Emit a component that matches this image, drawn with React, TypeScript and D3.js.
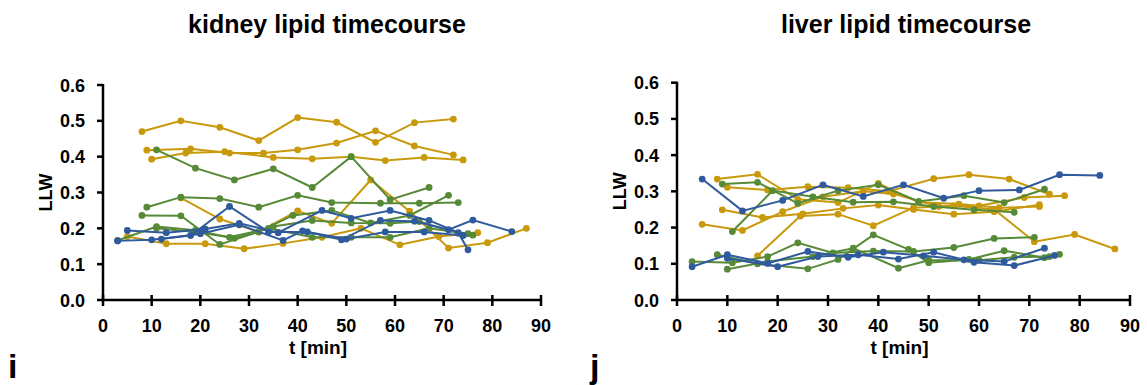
import React from "react";
import * as d3 from "d3";

type Pt = [number, number];

// ---- kidney series ----
const kidneyOrange: Pt[][] = [
  [[8,0.47],[16,0.50],[24,0.482],[32,0.445],[40,0.509],[48,0.496],[56,0.44],[64,0.495],[72,0.505]],
  [[9,0.418],[18,0.422],[26,0.41],[33,0.41],[40,0.419],[48,0.438],[56,0.472],[64,0.43],[72,0.405]],
  [[10,0.393],[17,0.41],[25,0.414],[35,0.398],[43,0.394],[51,0.40],[58,0.389],[66,0.398],[74,0.391]],
  [[16,0.285],[24,0.226],[32,0.19],[40,0.249],[47,0.214],[55,0.335],[63,0.248],[71,0.145],[79,0.16],[87,0.2]],
  [[5,0.177],[13,0.157],[21,0.157],[29,0.143],[37,0.158],[45,0.175],[53,0.2],[61,0.154],[69,0.177],[77,0.188]],
];
const kidneyGreen: Pt[][] = [
  [[11,0.419],[19,0.368],[27,0.335],[35,0.366],[43,0.314],[51,0.40],[59,0.28],[67,0.314]],
  [[9,0.259],[16,0.287],[24,0.283],[32,0.259],[40,0.292],[47,0.272],[57,0.27],[65,0.27],[73,0.272]],
  [[8,0.236],[16,0.235],[24,0.155],[32,0.19],[39,0.236],[47,0.25],[55,0.215],[63,0.236],[71,0.292]],
  [[3,0.166],[11,0.205],[19,0.195],[27,0.172],[35,0.205],[43,0.222],[51,0.215],[59,0.214],[65,0.219],[73,0.186],[76,0.181]],
  [[11,0.2],[19,0.19],[26,0.175],[34,0.2],[43,0.175],[51,0.175],[59,0.175],[67,0.2],[75,0.185]],
];
const kidneyBlue: Pt[][] = [
  [[3,0.165],[10,0.168],[18,0.18],[26,0.261],[34,0.19],[42,0.19],[50,0.17],[58,0.19],[66,0.19],[74,0.18]],
  [[5,0.194],[13,0.188],[21,0.198],[28,0.214],[36,0.188],[45,0.25],[51,0.228],[59,0.25],[67,0.222],[73,0.188],[75,0.14]],
  [[12,0.17],[20,0.185],[28,0.21],[37,0.166],[41,0.193],[49,0.168],[57,0.222],[64,0.22],[71,0.196],[76,0.223],[84,0.191]],
];

// ---- liver series ----
const liverOrange: Pt[][] = [
  [[8,0.334],[16,0.347],[24,0.278],[32,0.269],[40,0.322],[48,0.27],[56,0.265],[64,0.255],[72,0.258]],
  [[10,0.311],[18,0.304],[26,0.313],[34,0.31],[42,0.30],[51,0.335],[58,0.346],[66,0.334],[74,0.292]],
  [[9,0.249],[17,0.228],[25,0.238],[33,0.253],[40,0.262],[47,0.25],[55,0.237],[63,0.244],[72,0.263]],
  [[5,0.209],[13,0.192],[21,0.244],[29,0.285],[37,0.3],[43,0.293],[52,0.258],[60,0.26],[69,0.283],[77,0.288]],
  [[16,0.122],[24.5,0.232],[32,0.237],[39,0.205],[47,0.255],[55,0.26],[63,0.25],[71,0.161],[79,0.181],[87,0.141]],
];
const liverGreen: Pt[][] = [
  [[9,0.32],[16,0.325],[24,0.267],[32,0.302],[40,0.318],[48,0.272],[57,0.288],[65,0.269],[73,0.306]],
  [[11,0.189],[19,0.302],[27,0.285],[35,0.27],[43,0.271],[51,0.258],[59,0.249],[67,0.242]],
  [[3,0.106],[11,0.103],[18,0.12],[24,0.158],[31,0.13],[39,0.135],[47,0.134],[55,0.145],[63,0.17],[71,0.173]],
  [[8,0.125],[16,0.1],[26,0.086],[32,0.112],[39,0.18],[46,0.14],[50,0.103],[58,0.112],[65,0.136],[73,0.117],[76,0.126]],
  [[10,0.085],[18,0.106],[27,0.12],[35,0.143],[44,0.088],[50,0.11],[60,0.11],[67,0.118],[74,0.12]],
];
const liverBlue: Pt[][] = [
  [[5,0.334],[13,0.246],[21,0.275],[29,0.318],[37,0.286],[45,0.318],[53,0.281],[60,0.302],[68,0.304],[76,0.346],[84,0.344]],
  [[3,0.092],[10,0.125],[18,0.101],[26,0.134],[34,0.118],[41,0.132],[49,0.122],[57,0.111],[65,0.106],[73,0.143]],
  [[10,0.115],[20,0.092],[28,0.12],[36,0.125],[44,0.113],[51,0.132],[59,0.104],[67,0.095],[75,0.123]],
];

const xTicks = [0, 10, 20, 30, 40, 50, 60, 70, 80, 90];
const yTicks = [0, 0.1, 0.2, 0.3, 0.4, 0.5, 0.6];

const ORANGE = "#C9990C";
const GREEN = "#568A37";
const BLUE = "#2F5A9E";
const FONT = "'Liberation Sans', Arial, sans-serif";

interface PanelProps {
  title: string;
  x0: number; x1: number; y0: number; y1: number;
  orange: Pt[][]; green: Pt[][]; blue: Pt[][];
  letter: string; letterX: number; titleX: number; labelX: number;
}

function Panel(p: PanelProps) {
  const x = d3.scaleLinear().domain([0, 90]).range([p.x0, p.x1]);
  const y = d3.scaleLinear().domain([0, 0.6]).range([p.y0, p.y1]);
  const line = d3.line<Pt>().x((d) => x(d[0])).y((d) => y(d[1]));
  const groups: [Pt[][], string][] = [[p.orange, ORANGE], [p.green, GREEN], [p.blue, BLUE]];
  const cx = (p.x0 + p.x1) / 2;
  return (
    <g>
      <text x={p.titleX} y={33} textAnchor="middle" fontFamily={FONT} fontWeight="bold" fontSize={25}>{p.title}</text>
      {groups.map(([series, col], gi) =>
        series.map((s, si) => (
          <g key={`${gi}-${si}`}>
            <path d={line(s) || ""} fill="none" stroke={col} strokeWidth={2} />
            {s.map((d, k) => (
              <circle key={k} cx={x(d[0])} cy={y(d[1])} r={3.4} fill={col} />
            ))}
          </g>
        ))
      )}
      <line x1={p.x0} x2={p.x0} y1={y(0.6) - 1} y2={p.y0} stroke="#000" strokeWidth={2.5} />
      <line x1={p.x0} x2={p.x1 + 1} y1={p.y0} y2={p.y0} stroke="#000" strokeWidth={2.5} />
      {yTicks.map((t) => (
        <g key={t}>
          <line x1={p.x0 - 6} x2={p.x0} y1={y(t)} y2={y(t)} stroke="#000" strokeWidth={2.5} />
          <text x={p.x0 - 18} y={y(t) + 6.5} textAnchor="end" fontFamily={FONT} fontWeight="bold" fontSize={18}>{t.toFixed(1)}</text>
        </g>
      ))}
      {xTicks.map((t) => (
        <g key={t}>
          <line x1={x(t)} x2={x(t)} y1={p.y0 - 5} y2={p.y0 + 6} stroke="#000" strokeWidth={2.5} />
          <text x={x(t)} y={p.y0 + 32} textAnchor="middle" fontFamily={FONT} fontWeight="bold" fontSize={18}>{t}</text>
        </g>
      ))}
      <text x={cx - 4} y={354} textAnchor="middle" fontFamily={FONT} fontWeight="bold" fontSize={19}>t [min]</text>
      <text transform={`translate(${p.labelX},${(p.y0 + y(0.6)) / 2}) rotate(-90)`} textAnchor="middle" fontFamily={FONT} fontWeight="bold" fontSize={18}>LLW</text>
      <text x={p.letterX} y={378} fontFamily={FONT} fontWeight="bold" fontSize={34}>{p.letter}</text>
    </g>
  );
}

export default function App() {
  return (
    <svg width={1147} height={385} style={{ position: "absolute", left: 0, top: 0, background: "#fff" }}>
      <rect width={1147} height={385} fill="#fff" />
      <Panel title="kidney lipid timecourse" x0={103} x1={541} y0={300} y1={85}
        orange={kidneyOrange} green={kidneyGreen} blue={kidneyBlue} letter="i" letterX={8} titleX={327} labelX={52} />
      <Panel title="liver lipid timecourse" x0={677} x1={1130} y0={300} y1={82.7}
        orange={liverOrange} green={liverGreen} blue={liverBlue} letter="j" letterX={590} titleX={906} labelX={626} />
    </svg>
  );
}
